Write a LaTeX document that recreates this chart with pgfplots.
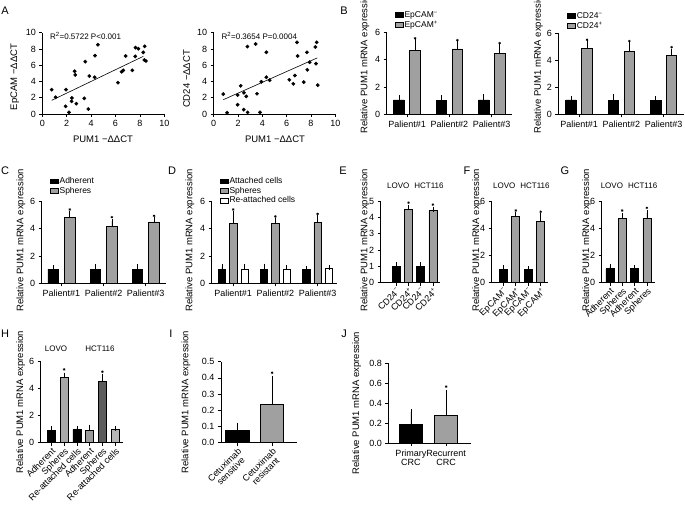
\documentclass[border=0pt]{standalone}
\usepackage{fontspec}
\setmainfont{Liberation Sans}
\usepackage{pgfplots}
\pgfplotsset{compat=1.18}
\newcommand{\fs}[1]{\fontsize{#1}{#1}\selectfont}
\definecolor{bgray}{RGB}{160,160,160}
\definecolor{hgA}{RGB}{168,168,168}
\definecolor{hgB}{RGB}{155,155,155}
\definecolor{hdark}{RGB}{92,92,92}
\definecolor{hlight}{RGB}{182,182,182}
\pgfplotsset{
 gp/.style={scale only axis, anchor=south west, axis x line=bottom, axis y line=left,
   axis line style={-, line width=0.7pt, black}, tick style={black, line width=0.7pt},
   tick align=outside, major tick length=3pt, tick label style={font=\fs{9}},
   /pgf/number format/assume math mode=true, clip=false},
 ebs/.style={error bars/y dir=plus, error bars/y explicit,
   error bars/error bar style={black, line width=0.7pt},
   error bars/error mark options={black, line width=0.7pt, mark size=2.5pt}},
 limg/.style={legend image code/.code={\draw[##1, line width=0.6pt] (0pt,-2.4pt) rectangle (8pt,2.4pt);}},
 bk/.style={ybar, bar shift=0pt, fill=black, draw=black, line width=0.7pt, ebs, limg},
 gr/.style={ybar, bar shift=0pt, fill=bgray, draw=black, line width=0.7pt, ebs, limg},
 wh/.style={ybar, bar shift=0pt, fill=white, draw=black, line width=0.7pt, ebs, limg},
 star/.style={only marks, mark=asterisk, mark size=1.3pt, black, mark options={line width=0.5pt}},
 lgd/.style={legend style={draw=none, fill=none, anchor=north west, inner sep=0pt, font=\fs{8.5},
   nodes={inner sep=0.8pt, text height=6.4pt, text depth=1.6pt}, row sep=0pt}, legend cell align=left},
 rot/.style={xticklabel style={rotate=45, anchor=north east, inner sep=1pt}},
}
\begin{document}
\begin{tikzpicture}[x=1pt,y=1pt]
\useasboundingbox (0,0) rectangle (685,509);
% panel letters
\begin{scope}[every node/.style={font=\fs{11}}]
\node at (5,498.7) {A}; \node at (344,498.7) {B};
\node at (5,338) {C}; \node at (172,338) {D}; \node at (343,338) {E}; \node at (467,338) {F}; \node at (565,338) {G};
\node at (5,175) {H}; \node at (171,175) {I}; \node at (344,175) {J};
\end{scope}
% ---------------- A left
\begin{axis}[gp, at={(42.3pt,395pt)}, width=122pt, height=81.3pt, xmin=0,xmax=10,ymin=0,ymax=10,
  xtick={0,2,...,10}, ytick={0,2,...,10}]
\addplot[only marks, mark=*, mark size=1.7pt, black] coordinates {
(0.77,2.99) (1.09,2.05) (1.94,2.99) (1.91,0.94) (2.19,0.2) (2.43,1.97) (2.40,1.56) (2.65,5.25) (2.70,4.8) (2.79,1.27) (3.44,1.93) (3.52,6.43) (3.77,0.61) (3.85,4.67) (4.32,7.17) (4.29,4.51) (4.56,8.52) (6.20,3.85) (6.50,5.2) (6.64,5.37) (6.83,7.13) (7.38,5.37) (7.62,7.09) (7.64,8.16) (7.87,8.03) (8.28,7.58) (8.39,8.32) (8.36,6.64) (8.50,6.52)};
\addplot[black, line width=0.6pt] coordinates {(0.77,1.68) (8.28,7.09)};
\end{axis}
\node[anchor=west, font=\fs{8}] at (46.5,473) {R\textsuperscript{2}=0.5722 P<0.001};
\node[font=\fs{9.5}] at (103,369.7) {PUM1 −ΔΔCT};
\node[rotate=90, font=\fs{9.5}] at (14.7,432) {EpCAM −ΔΔCT};
% ---------------- A right
\begin{axis}[gp, at={(213.7pt,395pt)}, width=121.6pt, height=81.3pt, xmin=0,xmax=10,ymin=0,ymax=10,
  xtick={0,2,...,10}, ytick={0,2,...,10}]
\addplot[only marks, mark=*, mark size=1.7pt, black] coordinates {
(0.79,2.45) (1.10,0.16) (1.97,2.33) (1.97,1.14) (2.22,3.47) (2.47,0.53) (2.49,2.61) (2.68,2.16) (2.77,8.29) (2.79,0.2) (3.45,8.61) (3.56,2.49) (3.81,0.2) (3.92,3.96) (4.33,7.59) (4.33,4.53) (4.60,4.16) (6.22,4.2) (6.55,3.71) (6.68,4.73) (6.85,8.82) (6.90,7.14) (7.40,3.92) (7.67,7.59) (7.70,5.43) (7.89,6.37) (8.36,8.24) (8.47,8.82) (8.41,6.2) (8.55,3.55)};
\addplot[black, line width=0.6pt] coordinates {(0.79,1.76) (8.52,6.90)};
\end{axis}
\node[anchor=west, font=\fs{8}] at (218,473) {R\textsuperscript{2}=0.3654 P=0.0004};
\node[font=\fs{9.5}] at (275,369.7) {PUM1 −ΔΔCT};
\node[rotate=90, font=\fs{9.5}] at (186.7,430) {CD24 −ΔΔCT};
% ---------------- B left
\begin{axis}[gp, lgd, at={(386.7pt,394.7pt)}, width=125.3pt, height=82pt, xmin=0.52,xmax=3.48, ymin=0,ymax=6,
  ytick={0,2,4,6}, xtick={1,2,3}, xticklabels={Palient\#1,Palient\#2,Palient\#3},
  legend style={at={(0.066,1.27)}}]
\addplot[bk, bar width=10.5pt] coordinates {(0.811,1.05) +- (0,0.17) (1.811,1.02) +- (0,0.18) (2.811,1.05) +- (0,0.27)};
\addplot[gr, bar width=10.5pt] coordinates {(1.189,4.68) +- (0,0.66) (2.189,4.78) +- (0,0.42) (3.189,4.44) +- (0,0.54)};
\legend{EpCAM\textsuperscript{−},EpCAM\textsuperscript{+}}
\addplot[star] coordinates {(1.189,5.56) (2.189,5.42) (3.189,5.2)};
\end{axis}
\node[rotate=90, font=\fs{9.5}] at (365,446.5) {Relative PUM1 mRNA expression};
% ---------------- B right
\begin{axis}[gp, lgd, at={(558.3pt,394.7pt)}, width=126pt, height=81.3pt, xmin=0.51,xmax=3.49, ymin=0,ymax=6,
  ytick={0,2,4,6}, xtick={1,2,3}, xticklabels={Palient\#1,Palient\#2,Palient\#3},
  legend style={at={(0.071,1.27)}}]
\addplot[bk, bar width=10.5pt] coordinates {(0.811,1.06) +- (0,0.12) (1.811,1.03) +- (0,0.30) (2.811,1.03) +- (0,0.10)};
\addplot[gr, bar width=10.5pt] coordinates {(1.189,4.84) +- (0,0.44) (2.189,4.64) +- (0,0.52) (3.189,4.32) +- (0,0.35)};
\legend{CD24\textsuperscript{−},CD24\textsuperscript{+}}
\addplot[star] coordinates {(1.189,5.5) (2.189,5.4) (3.189,4.95)};
\end{axis}
\node[rotate=90, font=\fs{9.5}] at (538.3,446.5) {Relative PUM1 mRNA expression};
% ---------------- C
\begin{axis}[gp, lgd, at={(41.7pt,225.7pt)}, width=123.8pt, height=82.3pt, xmin=0.53,xmax=3.47, ymin=0,ymax=6,
  ytick={0,2,4,6}, xtick={1,2,3}, xticklabels={Palient\#1,Palient\#2,Palient\#3},
  legend style={at={(0.067,1.30)}}]
\addplot[bk, bar width=10.5pt] coordinates {(0.803,1.04) +- (0,0.10) (1.803,1.02) +- (0,0.19) (2.803,1.04) +- (0,0.15)};
\addplot[gr, bar width=10.5pt] coordinates {(1.197,4.83) +- (0,0.27) (2.197,4.17) +- (0,0.37) (3.197,4.47) +- (0,0.17)};
\legend{Adherent,Spheres}
\addplot[star] coordinates {(1.197,5.38) (2.197,4.82) (3.197,4.92)};
\end{axis}
\node[rotate=90, font=\fs{9.5}] at (21,268.5) {Relative PUM1 mRNA expression};
% ---------------- D
\begin{axis}[gp, lgd, at={(211.7pt,225.7pt)}, width=124.9pt, height=82.3pt, xmin=0.49,xmax=3.45, ymin=0,ymax=6,
  ytick={0,2,4,6}, xtick={1,2,3}, xticklabels={Palient\#1,Palient\#2,Palient\#3},
  legend style={at={(0.066,1.30)}}]
\addplot[bk, bar width=7.3pt] coordinates {(0.732,1.04) +- (0,0.15) (1.732,1.04) +- (0,0.22) (2.732,1.04) +- (0,0.05)};
\addplot[gr, bar width=7.3pt] coordinates {(1,4.37) +- (0,0.73) (2,4.37) +- (0,0.22) (3,4.44) +- (0,0.34)};
\addplot[wh, bar width=7.3pt] coordinates {(1.268,1.04) +- (0,0.15) (2.268,1.04) +- (0,0.10) (3.268,1.10) +- (0,0.06)};
\legend{Attached cells,Spheres,Re-attached cells}
\addplot[star] coordinates {(1,5.38) (2,4.87) (3,5.06)};
\end{axis}
\node[rotate=90, font=\fs{9.5}] at (190,268.5) {Relative PUM1 mRNA expression};
% ---------------- E
\begin{axis}[gp, rot, at={(380.7pt,226.3pt)}, width=59.2pt, height=81.7pt, xmin=-0.28,xmax=4.57, ymin=0,ymax=5,
  ytick={0,1,...,5}, xtick={1,2,3,4}, xticklabels={CD24\textsuperscript{−},CD24\textsuperscript{+},CD24\textsuperscript{−},CD24\textsuperscript{+}}]
\addplot[bk, bar width=8pt] coordinates {(1,1.0) +- (0,0.12) (3,1.0) +- (0,0.10)};
\addplot[gr, bar width=8pt] coordinates {(2,4.49) +- (0,0.14) (4,4.41) +- (0,0.06)};
\addplot[star] coordinates {(2,4.9) (4,4.78)};
\end{axis}
\node[font=\fs{8}] at (415.3,323) {LOVO\hspace{5pt}HCT116};
\node[rotate=90, font=\fs{9.5}] at (365,268.5) {Relative PUM1 mRNA expression};
% ---------------- F
\begin{axis}[gp, rot, at={(491.7pt,226.3pt)}, width=56.4pt, height=81.7pt, xmin=0.07,xmax=4.59, ymin=0,ymax=6,
  ytick={0,2,4,6}, xtick={1,2,3,4}, xticklabels={EpCAM\textsuperscript{−},EpCAM\textsuperscript{+},EpCAM\textsuperscript{−},EpCAM\textsuperscript{+}}]
\addplot[bk, bar width=8pt] coordinates {(1,1.0) +- (0,0.08) (3,0.98) +- (0,0.05)};
\addplot[gr, bar width=8pt] coordinates {(2,4.88) +- (0,0.14) (4,4.49) +- (0,0.44)};
\addplot[star] coordinates {(2,5.3) (4,5.21)};
\end{axis}
\node[font=\fs{8}] at (521.3,323) {LOVO\hspace{5pt}HCT116};
\node[rotate=90, font=\fs{9.5}] at (476.7,268.5) {Relative PUM1 mRNA expression};
% ---------------- G
\begin{axis}[gp, rot, at={(601.7pt,226.3pt)}, width=53.3pt, height=81.7pt, xmin=0.34,xmax=4.66, ymin=0,ymax=6,
  ytick={0,2,4,6}, xtick={1,2,3,4}, xticklabels={Adherent,Spheres,Adherent,Spheres}]
\addplot[bk, bar width=8pt] coordinates {(1,1.02) +- (0,0.18) (3,1.02) +- (0,0.12)};
\addplot[gr, bar width=8pt] coordinates {(2,4.70) +- (0,0.22) (4,4.75) +- (0,0.38)};
\addplot[star] coordinates {(2,5.3) (4,5.5)};
\end{axis}
\node[font=\fs{8}] at (629,323) {LOVO\hspace{5pt}HCT116};
\node[rotate=90, font=\fs{9.5}] at (586.7,268.5) {Relative PUM1 mRNA expression};
% ---------------- H
\begin{axis}[gp, rot, at={(40.7pt,66.3pt)}, width=82.6pt, height=81pt, xmin=0.17,xmax=6.63, ymin=0,ymax=6,
  ytick={0,2,4,6}, xtick={1,...,6}, xticklabels={Adherent,Spheres,Re-attached cells,Adherent,Spheres,Re-attached cells}]
\addplot[bk, bar width=8pt] coordinates {(1,0.94) +- (0,0.12) (3,0.99) +- (0,0.07)};
\addplot[ybar, bar shift=0pt, fill=hgA, draw=black, line width=0.7pt, ebs, bar width=8pt] coordinates {(2,4.84) +- (0,0.17)};
\addplot[ybar, bar shift=0pt, fill=hgB, draw=black, line width=0.7pt, ebs, bar width=8pt] coordinates {(4,0.94) +- (0,0.22)};
\addplot[ybar, bar shift=0pt, fill=hdark, draw=black, line width=0.7pt, ebs, bar width=8pt] coordinates {(5,4.54) +- (0,0.40)};
\addplot[ybar, bar shift=0pt, fill=hlight, draw=black, line width=0.7pt, ebs, bar width=8pt] coordinates {(6,0.99) +- (0,0.07)};
\addplot[star] coordinates {(2,5.43) (5,5.26)};
\end{axis}
\node[font=\fs{8}] at (56,160) {LOVO};
\node[font=\fs{8}] at (100,160) {HCT116};
\node[rotate=90, font=\fs{9.5}] at (20.7,107) {Relative PUM1 mRNA expression};
% ---------------- I
\begin{axis}[gp, rot, at={(221pt,66.3pt)}, width=75.7pt, height=81pt, xmin=0.53,xmax=2.71, ymin=0,ymax=0.5,
  ytick={0,0.1,...,0.5}, yticklabel style={/pgf/number format/.cd, fixed, fixed zerofill, precision=1},
  xtick={1,2}, xticklabels={{Cetuximab\\sensitive},{Cetuximab\\resistant}}, xticklabel style={align=center}]
\addplot[bk, bar width=23.3pt] coordinates {(1,0.076) +- (0,0.033)};
\addplot[gr, bar width=23.3pt] coordinates {(2,0.239) +- (0,0.160)};
\addplot[star] coordinates {(2,0.432)};
\end{axis}
\node[rotate=90, font=\fs{9.5}] at (186,107) {Relative PUM1 mRNA expression};
% ---------------- J
\begin{axis}[gp, at={(388.3pt,65.7pt)}, width=82.5pt, height=80pt, xmin=0.355,xmax=2.70, ymin=0,ymax=0.8,
  ytick={0,0.2,...,0.8}, yticklabel style={/pgf/number format/.cd, fixed, fixed zerofill, precision=1},
  xtick={1,2}, xticklabels={{Primary\\CRC},{Recurrent\\CRC}}, xticklabel style={align=center}]
\addplot[bk, bar width=23.3pt] coordinates {(1,0.19) +- (0,0.123)};
\addplot[gr, bar width=23.3pt] coordinates {(2,0.28) +- (0,0.23)};
\addplot[star] coordinates {(2,0.567)};
\end{axis}
\node[rotate=90, font=\fs{9.5}] at (356.7,106) {Relative PUM1 mRNA expression};
\end{tikzpicture}
\end{document}
